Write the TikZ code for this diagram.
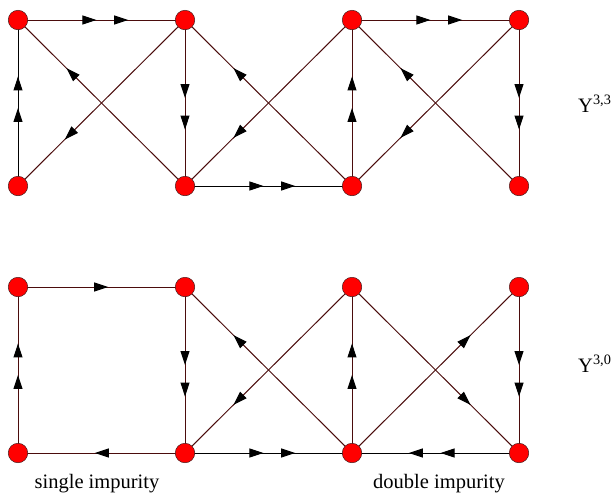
\documentclass[tikz,border=0pt]{standalone}
\usepackage{fontspec}
\setmainfont{Liberation Serif}
\usetikzlibrary{arrows.meta,decorations.markings,backgrounds}
\definecolor{edgec}{RGB}{75,12,12}
\definecolor{rimc}{RGB}{70,30,30}
\tikzset{
  vert/.style={circle,fill=red,draw=rimc,line width=0.5pt,minimum size=19.5pt,inner sep=0pt},
  link/.style={draw=edgec,line width=1pt},
  two/.style={link,postaction={decorate},
    decoration={markings,
      mark=at position 0.47 with {\arrow{Triangle[length=14pt,width=9pt,color=black,fill=black]}},
      mark=at position 0.66 with {\arrow{Triangle[length=14pt,width=9pt,color=black,fill=black]}}}},
  one/.style={link,postaction={decorate},
    decoration={markings,
      mark=at position #1 with {\arrow{Triangle[length=14pt,width=9pt,color=black,fill=black]}}}},
  lbl/.style={font=\fontsize{20.5}{24}\selectfont,inner sep=0pt},
}
\begin{document}
\begin{tikzpicture}[x=1pt,y=-1pt]
\useasboundingbox (0,0) rectangle (616,496);
% top graph
\node[vert] (ta0) at (18,186) {};
\node[vert] (ta1) at (18,20) {};
\node[vert] (tb0) at (185,186) {};
\node[vert] (tb1) at (185,20) {};
\node[vert] (tc0) at (352,186) {};
\node[vert] (tc1) at (352,20) {};
\node[vert] (td0) at (519,186) {};
\node[vert] (td1) at (519,20) {};
% bottom graph
\node[vert] (ba0) at (18,453) {};
\node[vert] (ba1) at (18,287) {};
\node[vert] (bb0) at (185,453) {};
\node[vert] (bb1) at (185,287) {};
\node[vert] (bc0) at (352,453) {};
\node[vert] (bc1) at (352,287) {};
\node[vert] (bd0) at (519,453) {};
\node[vert] (bd1) at (519,287) {};
\begin{scope}[on background layer]
  % top
  \path[two,draw=black] (ta0.center) -- (ta1.center);
  \path[two] (ta1.center) -- (tb1.center);
  \path[two] (tb1.center) -- (tb0.center);
  \path[two,draw=black] (tb0.center) -- (tc0.center);
  \path[two] (tc0.center) -- (tc1.center);
  \path[two] (tc1.center) -- (td1.center);
  \path[two] (td1.center) -- (td0.center);
  \path[one=0.72] (tb1.center) -- (ta0.center);
  \path[one=0.71] (tb0.center) -- (ta1.center);
  \path[one=0.71] (tc1.center) -- (tb0.center);
  \path[one=0.71] (tc0.center) -- (tb1.center);
  \path[one=0.71] (td1.center) -- (tc0.center);
  \path[one=0.71] (td0.center) -- (tc1.center);
  % bottom
  \path[two] (ba0.center) -- (ba1.center);
  \path[one=0.54] (ba1.center) -- (bb1.center);
  \path[two] (bb1.center) -- (bb0.center);
  \path[one=0.54] (bb0.center) -- (ba0.center);
  \path[two,draw=black] (bb0.center) -- (bc0.center);
  \path[two] (bc0.center) -- (bc1.center);
  \path[one=0.71] (bc1.center) -- (bb0.center);
  \path[one=0.71] (bc0.center) -- (bb1.center);
  \path[one=0.71] (bc0.center) -- (bd1.center);
  \path[one=0.71] (bc1.center) -- (bd0.center);
  \path[two] (bd1.center) -- (bd0.center);
  \path[two,draw=black] (bd0.center) -- (bc0.center);
\end{scope}
\node[lbl,anchor=base west] (y33) at (578,112) {Y\textsuperscript{3,3}};
\node[lbl,anchor=base west] (y30) at (578,372) {Y\textsuperscript{3,0}};
\node[lbl,anchor=base] (single) at (97,488) {single impurity};
\node[lbl,anchor=base] (double) at (439,488) {double impurity};
\end{tikzpicture}
\end{document}
